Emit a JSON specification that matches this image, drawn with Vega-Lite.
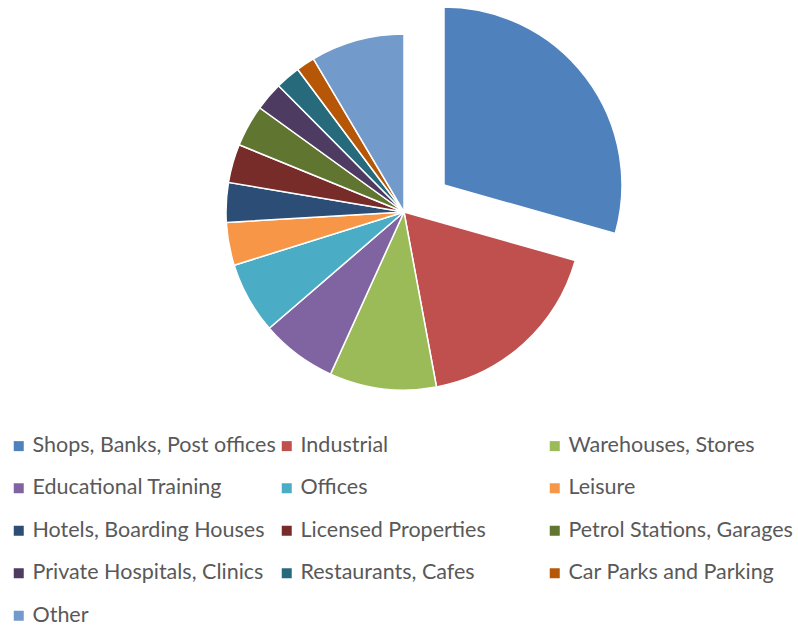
{
  "$schema": "https://vega.github.io/schema/vega-lite/v6.json",
  "autosize": {"type": "none"},
  "width": 788,
  "height": 424,
  "padding": {"left": 10, "top": 0, "right": 0, "bottom": 204},
  "background": "white",
  "config": {"view": {"stroke": null}},
  "data": {
    "values": [
      {"category": "Shops, Banks, Post offices", "share": 29.4, "order": 1},
      {"category": "Industrial", "share": 17.7, "order": 2},
      {"category": "Warehouses, Stores", "share": 9.7, "order": 3},
      {"category": "Educational Training", "share": 6.9, "order": 4},
      {"category": "Offices", "share": 6.5, "order": 5},
      {"category": "Leisure", "share": 3.9, "order": 6},
      {"category": "Hotels, Boarding Houses", "share": 3.6, "order": 7},
      {"category": "Licensed Properties", "share": 3.5, "order": 8},
      {"category": "Petrol Stations, Garages", "share": 3.8, "order": 9},
      {"category": "Private Hospitals, Clinics", "share": 2.6, "order": 10},
      {"category": "Restaurants, Cafes", "share": 2.25, "order": 11},
      {"category": "Car Parks and Parking", "share": 1.7, "order": 12},
      {"category": "Other", "share": 8.5, "order": 13}
    ]
  },
  "encoding": {
    "theta": {"field": "share", "type": "quantitative", "stack": true},
    "order": {"field": "order", "type": "quantitative"},
    "color": {
      "field": "category",
      "type": "nominal",
      "scale": {
        "domain": ["Shops, Banks, Post offices", "Industrial", "Warehouses, Stores", "Educational Training", "Offices", "Leisure", "Hotels, Boarding Houses", "Licensed Properties", "Petrol Stations, Garages", "Private Hospitals, Clinics", "Restaurants, Cafes", "Car Parks and Parking", "Other"],
        "range": ["#4F81BD", "#C0504D", "#9BBB59", "#8064A2", "#4BACC6", "#F79646", "#2C4D75", "#772C2A", "#5F7530", "#4D3B62", "#276A7C", "#B65708", "#729ACA"]
      },
      "legend": {
        "title": null,
        "orient": "none",
        "legendX": -2,
        "legendY": 435,
        "direction": "horizontal",
        "columns": 3,
        "gridAlign": "all",
        "columnPadding": 0,
        "rowPadding": 19.5,
        "padding": 0,
        "symbolType": "square",
        "symbolSize": 100,
        "symbolStrokeWidth": 0,
        "labelOffset": 3,
        "labelFont": "Lato",
        "labelFontSize": 21.5,
        "labelColor": "#595959",
        "labelLimit": 400
      }
    }
  },
  "layer": [
    {
      "mark": {"type": "arc", "outerRadius": 178, "stroke": "white", "strokeWidth": 1.5},
      "encoding": {
        "opacity": {
          "condition": {"test": "datum.category === 'Shops, Banks, Post offices'", "value": 0},
          "value": 1
        }
      }
    },
    {
      "transform": [{"filter": "datum.category === 'Shops, Banks, Post offices'"}],
      "mark": {"type": "arc", "outerRadius": 178, "stroke": "white", "strokeWidth": 1.5, "xOffset": 40, "yOffset": -27}
    }
  ]
}
